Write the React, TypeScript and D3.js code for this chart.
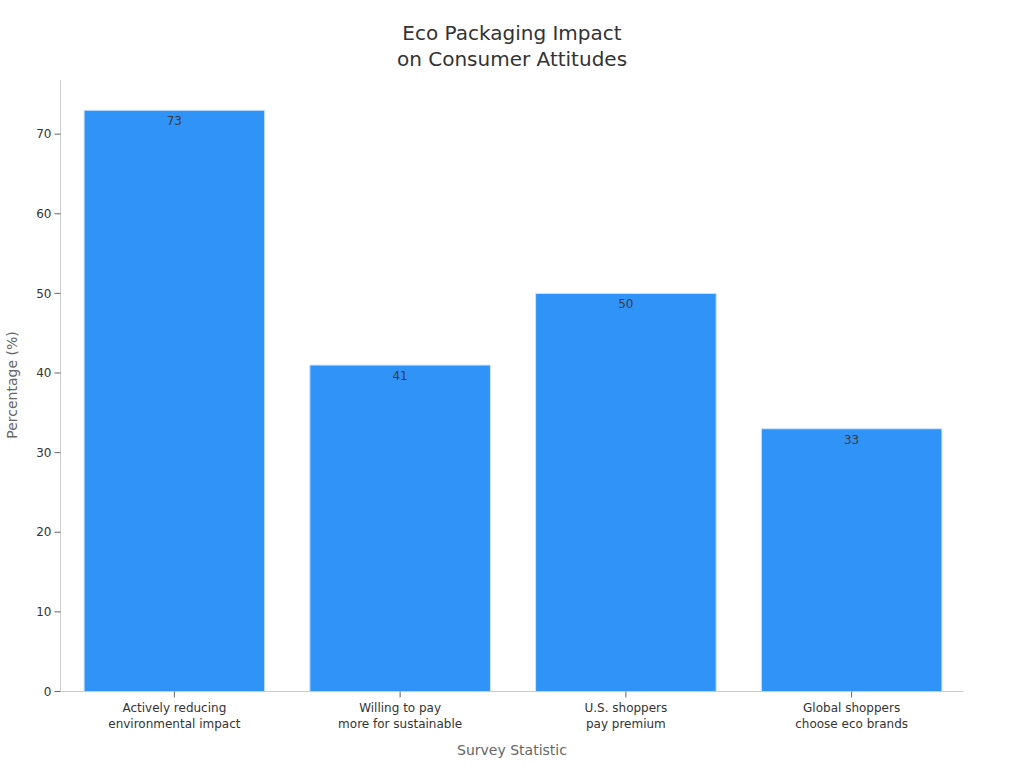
import React from "react";
import * as d3 from "d3";

const categories = [
  ["Actively reducing", "environmental impact"],
  ["Willing to pay", "more for sustainable"],
  ["U.S. shoppers", "pay premium"],
  ["Global shoppers", "choose eco brands"],
];
const values = [73, 41, 50, 33];
const yTicks = [0, 10, 20, 30, 40, 50, 60, 70];
const titleLines = ["Eco Packaging Impact", "on Consumer Attitudes"];

export default function App() {
  const W = 1024, H = 768;
  const left = 60.5, right = 963.5, top = 80, bottom = 691.5;
  const keys = categories.map((_, i) => String(i));
  const x = d3.scaleBand().domain(keys).range([left + 1, right + 1]).paddingInner(0.2).paddingOuter(0.1);
  const y = d3.scaleLinear().domain([0, 76.8]).range([bottom, top]);
  const font = "DejaVu Sans, sans-serif";
  return (
    <svg width={W} height={H} style={{ position: "absolute", left: 0, top: 0, fontFamily: font }}>
      <rect width={W} height={H} fill="#fff" />
      {titleLines.map((t, i) => (
        <text key={i} x={512} y={40 + i * 26} textAnchor="middle" fontSize={20} fill="#333">{t}</text>
      ))}
      {values.map((v, i) => (
        <g key={i}>
          <rect x={x(String(i))!} y={y(v)} width={x.bandwidth()} height={bottom - y(v)} fill="#3093F8" stroke="#cfe3fb" strokeWidth={1} />
          <text x={x(String(i))! + x.bandwidth() / 2} y={y(v) + 15} textAnchor="middle" fontSize={12} fill="#3a3a3a">{v}</text>
        </g>
      ))}
      <line x1={left} x2={left} y1={top} y2={bottom} stroke="#ccc" />
      <line x1={left} x2={right} y1={bottom} y2={bottom} stroke="#ccc" />
      {yTicks.map((t) => (
        <g key={t}>
          <line x1={left - 6} x2={left} y1={y(t)} y2={y(t)} stroke="#666" />
          <text x={left - 9} y={y(t)} dy="0.35em" textAnchor="end" fontSize={12} fill="#333">{t}</text>
        </g>
      ))}
      {categories.map((c, i) => {
        const cx = x(String(i))! + x.bandwidth() / 2;
        return (
          <g key={i}>
            <line x1={cx} x2={cx} y1={bottom} y2={bottom + 6} stroke="#666" />
            {c.map((l, j) => (
              <text key={j} x={cx} y={bottom + 20 + j * 16} textAnchor="middle" fontSize={12} fill="#333">{l}</text>
            ))}
          </g>
        );
      })}
      <text x={512} y={755} textAnchor="middle" fontSize={14} fill="#666">Survey Statistic</text>
      <text transform={`translate(17,385) rotate(-90)`} textAnchor="middle" fontSize={14} fill="#666">Percentage (%)</text>
    </svg>
  );
}
